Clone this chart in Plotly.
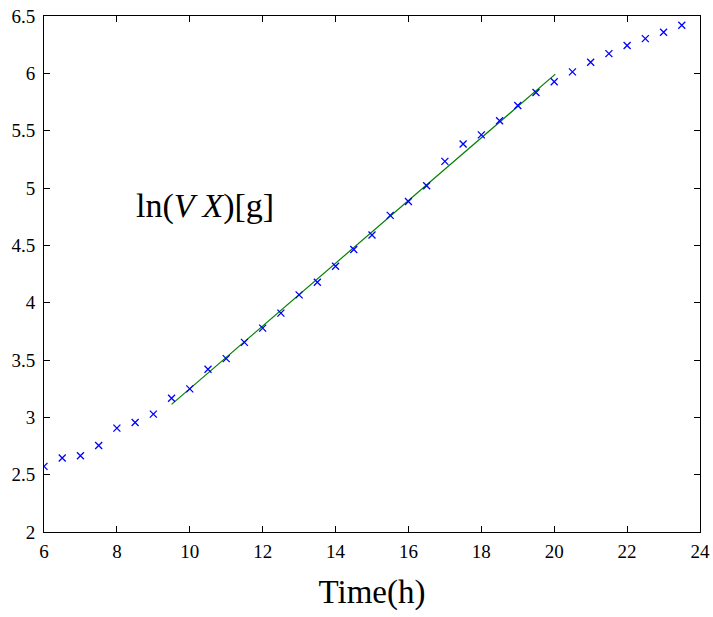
import plotly.graph_objects as go

# Measured data (time in h, ln(VX) in g)
time_h = [6, 6.5, 7, 7.5, 8, 8.5, 9, 9.5, 10, 10.5, 11, 11.5, 12, 12.5, 13, 13.5,
          14, 14.5, 15, 15.5, 16, 16.5, 17, 17.5, 18, 18.5, 19, 19.5, 20, 20.5,
          21, 21.5, 22, 22.5, 23, 23.5]
ln_vx = [2.572, 2.645, 2.665, 2.755, 2.906, 2.955, 3.028, 3.167, 3.248, 3.419,
         3.512, 3.654, 3.778, 3.909, 4.068, 4.178, 4.317, 4.463, 4.59, 4.761,
         4.883, 5.02, 5.232, 5.384, 5.463, 5.587, 5.72, 5.833, 5.926, 6.013,
         6.097, 6.172, 6.242, 6.303, 6.358, 6.419]

# Linear fit segment endpoints
fit_x = [9.5, 20.03]
fit_y = [3.113, 5.993]

x_ticks = [6, 8, 10, 12, 14, 16, 18, 20, 22, 24]
y_ticks = [2, 2.5, 3, 3.5, 4, 4.5, 5, 5.5, 6, 6.5]

serif = "Liberation Serif"

fig = go.Figure()
fig.add_trace(go.Scatter(x=fit_x, y=fit_y, mode="lines",
                         line=dict(color="rgb(0,128,0)", width=1.2),
                         showlegend=False, hoverinfo="skip"))
fig.add_trace(go.Scatter(x=time_h, y=ln_vx, mode="markers",
                         marker=dict(symbol="x-thin", size=7,
                                     line=dict(color="rgb(0,0,255)", width=1.3),
                                     color="rgb(0,0,255)"),
                         showlegend=False))

fig.add_annotation(x=10.43, y=4.84, xref="x", yref="y",
                   text="ln(<i>V X</i>)[g]", showarrow=False,
                   font=dict(family=serif, size=34, color="black"))

axis_common = dict(showline=True, linecolor="black", linewidth=1, mirror="ticks",
                   ticks="inside", ticklen=6, tickcolor="black", showgrid=False,
                   zeroline=False, automargin=False, ticklabeloverflow="allow",
                   tickfont=dict(family=serif, size=19, color="black"))

fig.update_xaxes(range=[6, 24], tickvals=x_ticks, ticklabelstandoff=2,
                 title=dict(text="Time(h)", font=dict(family=serif, size=33, color="black"),
                            standoff=19),
                 **axis_common)
fig.update_yaxes(range=[2, 6.5], tickvals=y_ticks, ticklabelstandoff=4, **axis_common)

fig.update_layout(width=713, height=617, plot_bgcolor="white", paper_bgcolor="white",
                  margin=dict(l=44, r=13, t=16, b=85))

fig.write_html("out.html", config={"displayModeBar": False},
               post_script="document.body.style.margin='0';document.body.style.overflow='hidden';")
